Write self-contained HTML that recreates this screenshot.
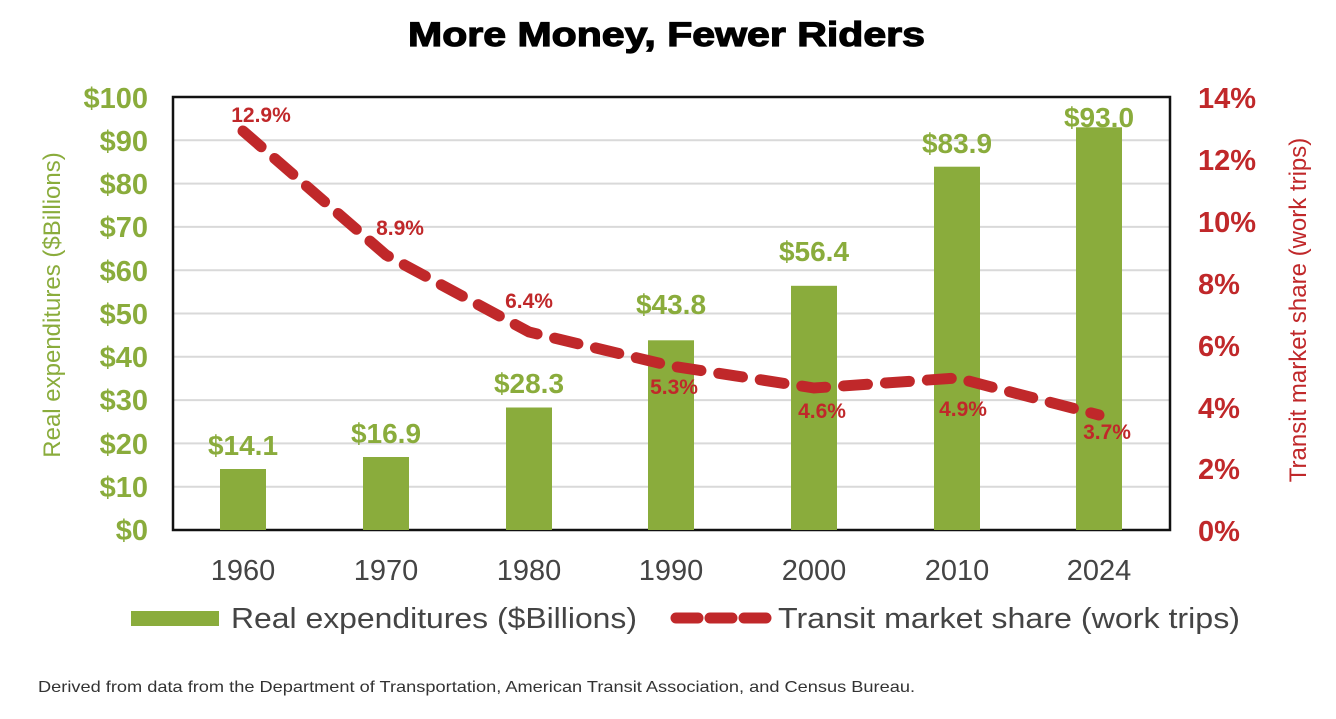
<!DOCTYPE html>
<html><head><meta charset="utf-8"><style>
body{margin:0;background:#fff;}
</style></head><body>
<svg width="1336" height="714" xmlns="http://www.w3.org/2000/svg" font-family="Liberation Sans, Arial, sans-serif">
<rect width="1336" height="714" fill="#fff"/>
<text x="408" y="46" font-size="34" font-weight="bold" fill="#000" stroke="#000" stroke-width="1.2" textLength="517" lengthAdjust="spacingAndGlyphs">More Money, Fewer Riders</text>
<g stroke="#d9d9d9" stroke-width="2">
<line x1="173" x2="1170" y1="140.3" y2="140.3"/><line x1="173" x2="1170" y1="183.6" y2="183.6"/>
<line x1="173" x2="1170" y1="226.9" y2="226.9"/><line x1="173" x2="1170" y1="270.2" y2="270.2"/>
<line x1="173" x2="1170" y1="313.5" y2="313.5"/><line x1="173" x2="1170" y1="356.8" y2="356.8"/>
<line x1="173" x2="1170" y1="400.1" y2="400.1"/><line x1="173" x2="1170" y1="443.4" y2="443.4"/>
<line x1="173" x2="1170" y1="486.7" y2="486.7"/><line x1="173" x2="1170" y1="530" y2="530"/>
</g>
<rect x="173" y="97" width="997" height="433" fill="none" stroke="#111" stroke-width="2.5"/>
<g fill="#8aac3c">
<rect x="220" y="469" width="46" height="61"/>
<rect x="363" y="457" width="46" height="73"/>
<rect x="506" y="407.5" width="46" height="122.5"/>
<rect x="648" y="340.3" width="46" height="189.7"/>
<rect x="791" y="285.8" width="46" height="244.2"/>
<rect x="934" y="166.7" width="46" height="363.3"/>
<rect x="1076" y="127.3" width="46" height="402.7"/>
</g>
<g fill="#8aac3c" font-size="28" font-weight="bold" text-anchor="middle">
<text x="243" y="455">$14.1</text><text x="386" y="443">$16.9</text><text x="529" y="393">$28.3</text>
<text x="671" y="314">$43.8</text><text x="814" y="261">$56.4</text><text x="957" y="153">$83.9</text><text x="1099" y="127">$93.0</text>
</g>
<polyline points="243,131 386,255 529,332 671,366 814,388 957,378 1099,415" fill="none" stroke="#c0282a" stroke-width="11" stroke-dasharray="24,18" stroke-linecap="round"/>
<g fill="#c0282a" font-size="21" font-weight="bold" text-anchor="middle">
<text x="261" y="122">12.9%</text><text x="400" y="235">8.9%</text><text x="529" y="308">6.4%</text>
<text x="674" y="394">5.3%</text><text x="822" y="418">4.6%</text><text x="963" y="416">4.9%</text><text x="1107" y="439">3.7%</text>
</g>
<g fill="#8aac3c" font-size="29" font-weight="bold" text-anchor="end">
<text x="148" y="108">$100</text><text x="148" y="151">$90</text><text x="148" y="194">$80</text><text x="148" y="237">$70</text>
<text x="148" y="281">$60</text><text x="148" y="324">$50</text><text x="148" y="367">$40</text><text x="148" y="410">$30</text>
<text x="148" y="454">$20</text><text x="148" y="497">$10</text><text x="148" y="540">$0</text>
</g>
<g fill="#c0282a" font-size="29" font-weight="bold">
<text x="1198" y="108">14%</text><text x="1198" y="170">12%</text><text x="1198" y="232">10%</text><text x="1198" y="294">8%</text>
<text x="1198" y="356">6%</text><text x="1198" y="418">4%</text><text x="1198" y="479">2%</text><text x="1198" y="541">0%</text>
</g>
<text transform="translate(60,305) rotate(-90)" text-anchor="middle" font-size="24" fill="#8aac3c">Real expenditures ($Billions)</text>
<text transform="translate(1306,310) rotate(-90)" text-anchor="middle" font-size="24" fill="#c0282a">Transit market share (work trips)</text>
<g font-size="29" fill="#444" text-anchor="middle">
<text x="243" y="580">1960</text><text x="386" y="580">1970</text><text x="529" y="580">1980</text><text x="671" y="580">1990</text>
<text x="814" y="580">2000</text><text x="957" y="580">2010</text><text x="1099" y="580">2024</text>
</g>
<rect x="131" y="611" width="88" height="15" fill="#8aac3c"/>
<text x="231" y="628" font-size="29" fill="#444" textLength="406" lengthAdjust="spacingAndGlyphs">Real expenditures ($Billions)</text>
<line x1="676" x2="766" y1="618" y2="618" stroke="#c0282a" stroke-width="11" stroke-dasharray="22,12" stroke-linecap="round"/>
<text x="778" y="628" font-size="29" fill="#444" textLength="462" lengthAdjust="spacingAndGlyphs">Transit market share (work trips)</text>
<text x="38" y="692" font-size="16" fill="#333" textLength="877" lengthAdjust="spacingAndGlyphs">Derived from data from the Department of Transportation, American Transit Association, and Census Bureau.</text>
</svg>
</body></html>
